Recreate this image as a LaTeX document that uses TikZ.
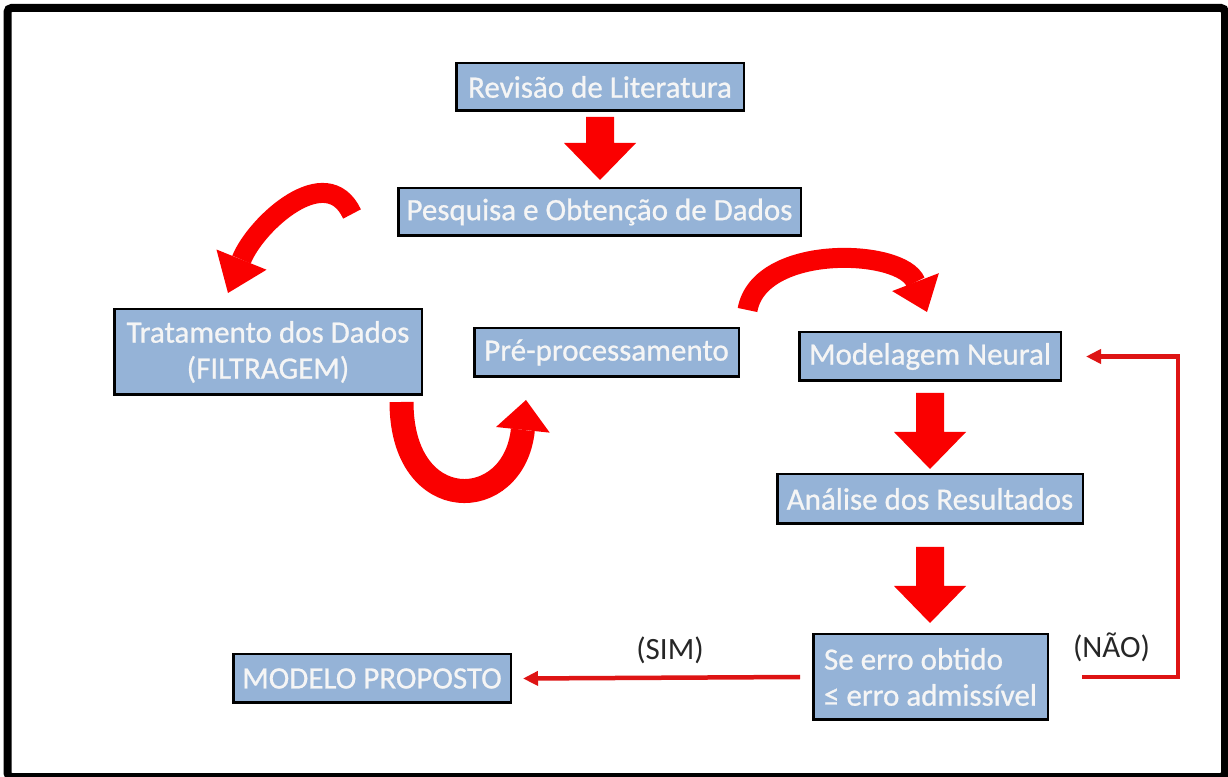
\documentclass[tikz,border=0pt]{standalone}
\usepackage{fontspec}
\setmainfont{Carlito}
\newfontfamily\boxfont[FakeBold=0.8]{Carlito}
\usetikzlibrary{arrows.meta,calc}
\definecolor{boxblue}{RGB}{149,179,215}
\definecolor{arrred}{RGB}{250,0,0}
\definecolor{linered}{RGB}{222,20,20}
\definecolor{labelgray}{RGB}{38,38,38}
\newcommand\blockarr[4]{%
  \fill[arrred] let \p1=(#1), \p2=(#2) in
    (\x1-14pt,\y1-#3) -- (\x1+14pt,\y1-#3) -- (\x1+14pt,\y2+#4+37pt)
    -- (\x1+36pt,\y2+#4+37pt) -- (\x1,\y2+#4) -- (\x1-36pt,\y2+#4+37pt)
    -- (\x1-14pt,\y2+#4+37pt) -- cycle;}
\tikzset{
  box/.style={draw=black, line width=2.5pt, fill=boxblue, text=white!96!black,
    font=\boxfont\fontsize{31}{36}\selectfont, inner sep=0pt, align=center},
  lbl/.style={text=labelgray, font=\fontsize{31}{36}\selectfont, inner sep=0pt},
  curvarr/.style={draw=arrred},
  thinarr/.style={draw=linered, line width=4.5pt,
    -{Triangle[length=15pt,width=14pt]}}
}
\begin{document}
\begin{tikzpicture}[x=1pt,y=1pt]
\useasboundingbox (0,0) rectangle (1228,776);
\fill[white] (0,0) rectangle (1228,776);
\draw[line width=8pt, rounded corners=4pt] (7.5,768) rectangle (1225,-1);

\node[box, minimum width=287.5pt, minimum height=47.5pt] (rev) at (600,689) {Revisão de Literatura};
\node[box, minimum width=402.5pt, minimum height=47.5pt] (pesq) at (599.5,564) {Pesquisa e Obtenção de Dados};
\node[box, minimum width=307.5pt, minimum height=85.5pt] (trat) at (268,424) {Tratamento dos Dados\\(FILTRAGEM)};
\node[box, minimum width=264.5pt, minimum height=48.5pt] (pre) at (606.5,423.5) {Pré-processamento};
\node[box, minimum width=261.5pt, minimum height=48.5pt] (model) at (930,419.5) {Modelagem Neural};
\node[box, minimum width=305.5pt, minimum height=49.5pt] (anal) at (930,277) {Análise dos Resultados};
\node[box, minimum width=234.5pt, minimum height=85.5pt, align=left] (se) at (930.5,99) {Se erro obtido\\≤ erro admissível};
\node[box, minimum width=277.5pt, minimum height=48.5pt] (modelo) at (372,97.5) {MODELO PROPOSTO};

\node[lbl] (sim) at (670,126) {(SIM)};
\node[lbl] (nao) at (1111.5,128.5) {(NÃO)};

\blockarr{rev.south}{pesq.north}{5pt}{7pt}
\blockarr{model.south}{anal.north}{11pt}{4pt}
\blockarr{anal.south}{se.north}{22pt}{10pt}

\draw[curvarr, line width=20pt, -{Triangle[length=36pt,width=54pt,line width=0pt]}]
  ([xshift=-45pt,yshift=-2pt]pesq.west) .. controls +(115:60) and +(68:75) .. ([xshift=-40pt,yshift=15pt]trat.north);
\draw[curvarr, line width=24pt, -{Triangle[length=30pt,width=54pt,line width=0pt]}]
  ([xshift=-21.5pt,yshift=-6pt]trat.south east) .. controls +(270:115) and +(264:115) .. ([xshift=53pt,yshift=-22pt]pre.south west);
\draw[curvarr, line width=20pt, -{Triangle[length=32pt,width=50pt,line width=0pt]}]
  ([xshift=7.5pt,yshift=17pt]pre.north east) .. controls +(80:68) and +(111:68) .. ([xshift=-3pt,yshift=19pt]model.north);

\draw[thinarr] ([xshift=-12pt]se.west) -- ([xshift=11pt]modelo.east);
\draw[thinarr] ([xshift=33pt]se.east) -- ++(96,0) |- ([xshift=24pt]model.east);
\end{tikzpicture}
\end{document}
